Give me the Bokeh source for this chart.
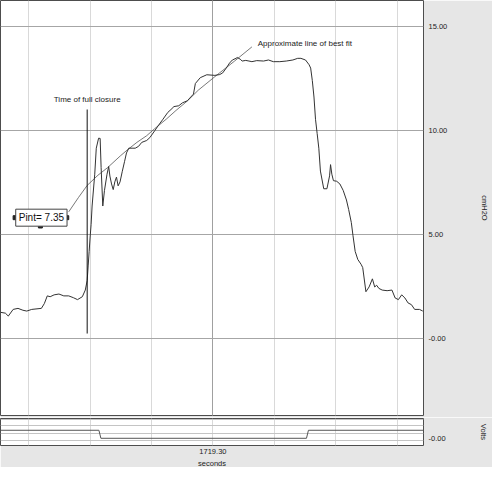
from bokeh.plotting import figure
from bokeh.models import Range1d, FixedTicker, Grid, Label, Title, PrintfTickFormatter
from bokeh.layouts import column
from bokeh.embed import file_html
from bokeh.resources import INLINE

# ---------------- data ----------------
seconds = [1715.840, 1715.919, 1715.967, 1716.046, 1716.125, 1716.205, 1716.268, 1716.348,
           1716.506, 1716.554, 1716.602, 1716.649, 1716.713, 1716.792, 1716.871, 1716.951,
           1717.030, 1717.094, 1717.173, 1717.221, 1717.252, 1717.268, 1717.284, 1717.300,
           1717.316, 1717.332, 1717.375, 1717.400, 1717.438, 1717.463, 1717.479, 1717.506,
           1717.533, 1717.575, 1717.602, 1717.622, 1717.649, 1717.676, 1717.702, 1717.729,
           1717.756, 1717.787, 1717.824, 1717.860, 1717.892, 1717.930, 1717.983, 1718.035,
           1718.089, 1718.141, 1718.221, 1718.273, 1718.352, 1718.406, 1718.486, 1718.565,
           1718.617, 1718.665, 1718.744, 1718.803, 1718.883, 1718.983, 1719.014, 1719.094,
           1719.200, 1719.332, 1719.411, 1719.459, 1719.517, 1719.570, 1719.617, 1719.676,
           1719.697, 1719.744, 1719.776, 1719.835, 1719.887, 1719.935, 1720.014, 1720.125,
           1720.205, 1720.284, 1720.390, 1720.495, 1720.602, 1720.681, 1720.733, 1720.808,
           1720.867, 1720.892, 1720.919, 1720.946, 1720.971, 1720.998, 1721.025, 1721.051,
           1721.105, 1721.157, 1721.200, 1721.216, 1721.237, 1721.263, 1721.316, 1721.368,
           1721.422, 1721.475, 1721.511, 1721.554, 1721.581, 1721.617, 1721.660, 1721.713,
           1721.740, 1721.792, 1721.844, 1721.898, 1721.935, 1721.967, 1722.003, 1722.057,
           1722.137, 1722.216, 1722.268, 1722.321, 1722.375, 1722.427, 1722.479, 1722.533,
           1722.586, 1722.665, 1722.718]
pressure = [1.25, 1.21, 1.07, 1.39, 1.44, 1.35, 1.31, 1.39,
            1.44, 1.67, 2.04, 2.00, 2.09, 2.13, 2.04, 2.04,
            1.95, 1.86, 2.00, 2.32, 2.78, 3.48, 4.18, 4.87,
            5.48, 6.36, 7.89, 9.14, 9.62, 9.61, 8.21, 6.36,
            7.10, 7.89, 8.26, 7.80, 7.42, 7.15, 7.52, 7.75,
            7.33, 7.52, 8.03, 8.49, 8.91, 9.14, 9.14, 9.14,
            9.23, 9.42, 9.51, 9.65, 9.98, 10.21, 10.53, 10.86,
            11.00, 11.14, 11.18, 11.32, 11.42, 11.74, 12.25, 12.53,
            12.67, 12.64, 12.68, 12.76, 12.99, 13.23, 13.38, 13.46,
            13.50, 13.42, 13.33, 13.36, 13.33, 13.30, 13.35, 13.33,
            13.38, 13.30, 13.30, 13.33, 13.38, 13.46, 13.46, 13.38,
            13.15, 12.99, 12.39, 11.60, 10.53, 9.84, 9.14, 8.04,
            7.19, 7.19, 7.81, 8.35, 7.89, 7.58, 7.55, 7.42,
            7.11, 6.65, 6.19, 5.57, 4.95, 4.18, 3.79, 3.56,
            3.40, 2.24, 2.47, 2.86, 2.47, 2.55, 2.40, 2.32,
            2.29, 2.32, 1.94, 1.86, 2.09, 1.94, 1.70, 1.62,
            1.39, 1.39, 1.31]

fit_seconds = [1716.951, 1717.110, 1717.252, 1717.427, 1717.586, 1717.792, 1717.903, 1718.062,
               1718.221, 1718.348, 1718.538, 1718.697, 1718.887, 1719.062, 1719.332, 1719.649,
               1719.935]
fit_pressure = [6.08, 6.77, 7.35, 7.84, 8.21, 8.77, 9.05, 9.42,
                9.74, 10.07, 10.53, 10.95, 11.42, 11.93, 12.58, 13.32,
                14.01]

closure_time = [1717.252, 1717.252]
closure_span = [0.23, 11.0]
pint_text = "Pint= 7.35"
pint_pos = (1716.506, 5.80)
pint_handle_x = [1716.078, 1716.919, 1716.490]
pint_handle_y = [5.80, 5.80, 5.40]

volts_seconds = [1715.84, 1717.443, 1717.475, 1720.824, 1720.856, 1722.73]
volts = [1.0, 1.0, 0.0, 0.0, 1.0, 1.0]

grid_seconds = [1716.30, 1717.30, 1718.30, 1719.30, 1720.30, 1721.30, 1722.30]
x_tick = [1719.30]
pressure_ticks = [0, 5, 10, 15]
volts_ticks = [0]
volts_grid = [-0.27, 0.63, 1.54, 2.35]

FONT = "Liberation Sans"
GRAY = "#e6e6e6"
W = 492
RIGHT = 64


def style_right_axis(ax, label):
    ax.axis_label = label
    ax.axis_label_standoff = 30
    ax.axis_label_text_font = FONT
    ax.axis_label_text_font_style = "normal"
    ax.axis_label_text_font_size = "7.5px"
    ax.axis_label_text_color = "#222222"
    ax.major_label_text_font = FONT
    ax.major_label_text_font_size = "7.5px"
    ax.major_label_text_color = "#222222"
    ax.major_label_standoff = 5
    ax.major_tick_line_color = None
    ax.major_tick_out = 0
    ax.major_tick_in = 0
    ax.minor_tick_line_color = None
    ax.minor_tick_out = 0
    ax.axis_line_color = None


# ---------------- main plot ----------------
p = figure(width=W, height=417, x_range=Range1d(1715.84, 1722.73), y_range=Range1d(-3.71, 16.24),
           x_axis_location=None, y_axis_location="right", output_backend="svg",
           toolbar_location=None, min_border_left=0, min_border_top=0, min_border_bottom=2,
           min_border_right=RIGHT, background_fill_color="white", border_fill_color=GRAY,
           outline_line_color="#4d4d4d")

p.xgrid.grid_line_color = None
p.ygrid.grid_line_color = None
p.add_layout(Grid(dimension=0, ticker=FixedTicker(ticks=grid_seconds), grid_line_color="#d9d9d9"), "center")
p.add_layout(Grid(dimension=0, ticker=FixedTicker(ticks=x_tick), grid_line_color="#a0a0a0"), "center")
p.add_layout(Grid(dimension=1, ticker=FixedTicker(ticks=pressure_ticks), grid_line_color="#a6a6a6"), "center")

ya = p.yaxis[0]
ya.ticker = FixedTicker(ticks=pressure_ticks)
ya.formatter = PrintfTickFormatter(format="%.2f")
ya.major_label_overrides = {0: "-0.00"}
style_right_axis(ya, "cmH2O")

p.line(fit_seconds, fit_pressure, line_color="#555555", line_width=0.8)
p.line(seconds, pressure, line_color="#333333", line_width=1)
p.line(closure_time, closure_span, line_color="#111111", line_width=1)

p.add_layout(Label(x=closure_time[0], y=11.46, text="Time of full closure", text_align="center",
                   text_baseline="middle", text_font=FONT, text_font_size="8px", text_color="#222222"))
p.add_layout(Label(x=1720.03, y=14.15, text="Approximate line of best fit", text_align="left",
                   text_baseline="middle", text_font=FONT, text_font_size="8px", text_color="#222222"))
p.add_layout(Label(x=pint_pos[0], y=pint_pos[1], text=pint_text, text_align="center",
                   text_baseline="middle", text_font=FONT, text_font_size="10px", text_color="#111111",
                   border_line_color="#444444", background_fill_color="white", padding=3))
p.scatter(pint_handle_x, pint_handle_y, marker="square", size=4, color="#222222")

# ---------------- volts plot ----------------
v = figure(width=W, height=50, x_range=p.x_range, y_range=Range1d(-0.90, 2.47),
           x_axis_location="below", y_axis_location="right", output_backend="svg",
           toolbar_location=None, min_border_left=0, min_border_top=1, min_border_bottom=21,
           min_border_right=RIGHT, background_fill_color="white", border_fill_color=GRAY,
           outline_line_color="#4d4d4d")
v.xgrid.grid_line_color = None
v.ygrid.grid_line_color = None
v.add_layout(Grid(dimension=0, ticker=FixedTicker(ticks=grid_seconds), grid_line_color="#d9d9d9"), "center")
v.add_layout(Grid(dimension=1, ticker=FixedTicker(ticks=volts_grid), grid_line_color="#c4c4c4"), "center")

va = v.yaxis[0]
va.ticker = FixedTicker(ticks=volts_ticks)
va.formatter = PrintfTickFormatter(format="%.2f")
va.major_label_overrides = {0: "-0.00"}
style_right_axis(va, "Volts")

xa = v.xaxis[0]
xa.ticker = FixedTicker(ticks=x_tick)
xa.formatter = PrintfTickFormatter(format="%.2f")
xa.major_label_text_font = FONT
xa.major_label_text_font_size = "7.5px"
xa.major_label_text_color = "#222222"
xa.major_label_standoff = 3
xa.major_tick_line_color = None
xa.major_tick_out = 0
xa.major_tick_in = 0
xa.minor_tick_line_color = None
xa.minor_tick_out = 0
xa.axis_line_color = None

v.add_layout(Title(text="seconds", align="center", offset=-36, text_font=FONT,
                   text_font_size="7.5px", text_font_style="normal", text_color="#222222",
                   standoff=0), "below")

v.line(volts_seconds, volts, line_color="#555555", line_width=1)

layout = column(p, v, spacing=0)
open("out.html", "w").write(file_html(layout, INLINE))
